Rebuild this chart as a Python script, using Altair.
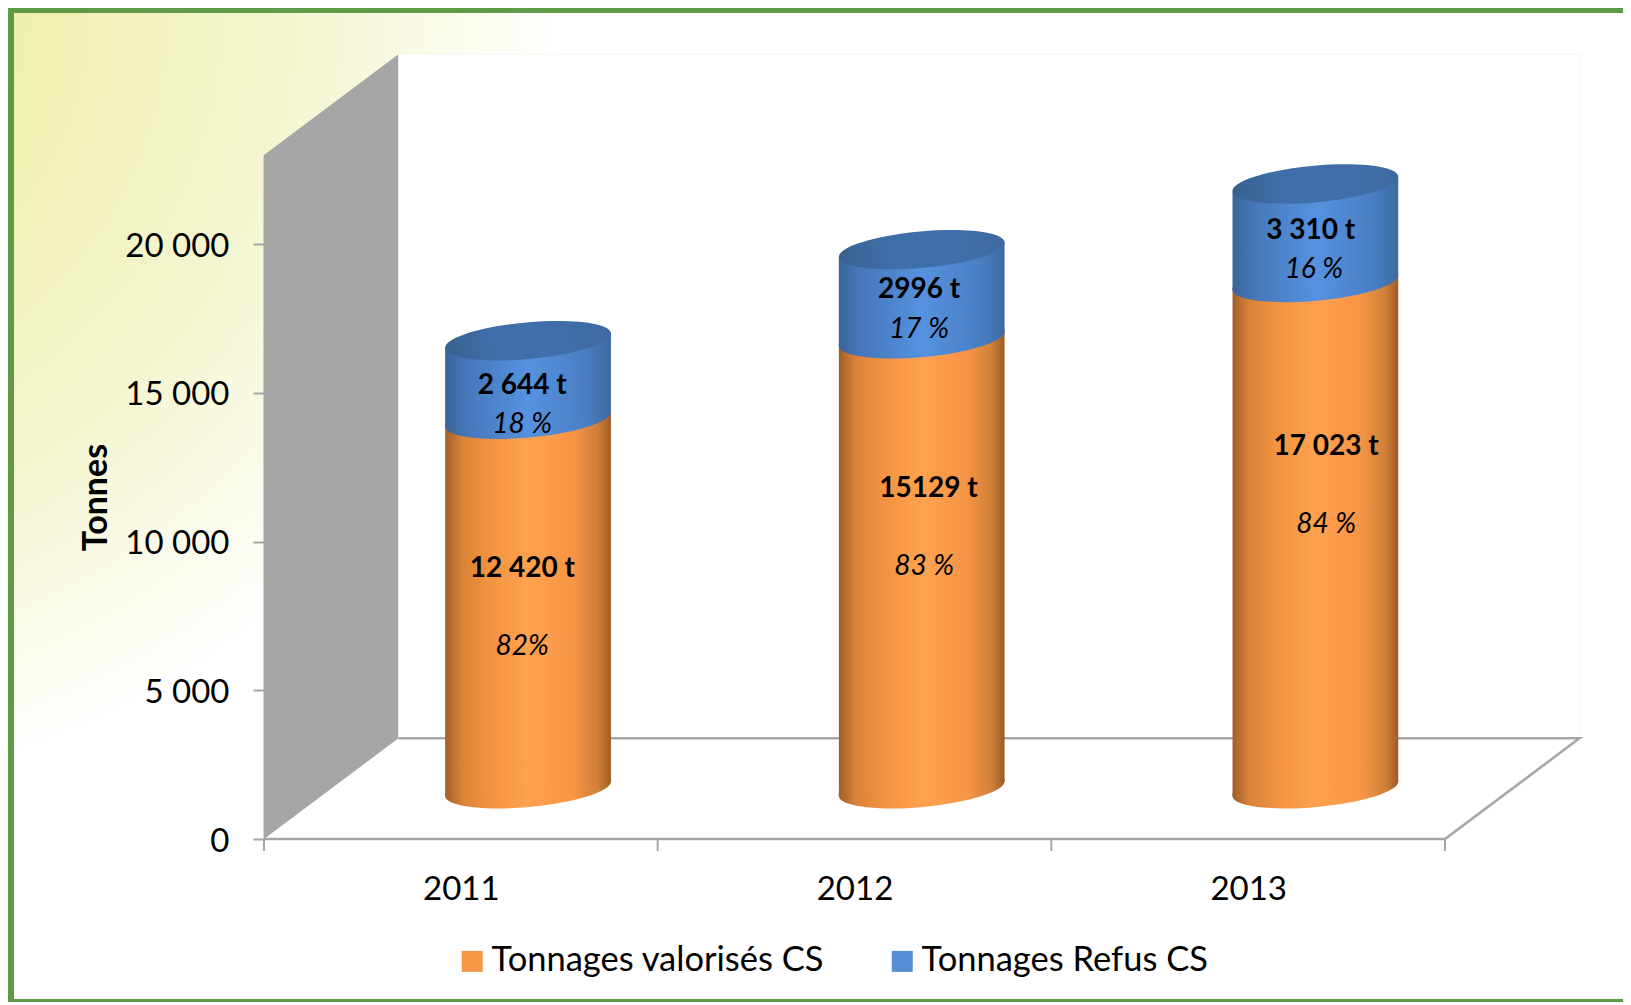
import altair as alt
import pandas as pd

years = [2011, 2012, 2013]
valorises = [12420, 15129, 17023]
refus = [2644, 2996, 3310]
bold_val = ["12 420 t", "15129 t", "17 023 t"]
pct_val = ["82%", "83 %", "84 %"]
bold_ref = ["2 644 t", "2996 t", "3 310 t"]
pct_ref = ["18 %", "17 %", "16 %"]
series_names = ["Tonnages valorisés CS", "Tonnages Refus CS"]
series_colors = ["#F79646", "#558ED5"]
y_ticks = [0, 5000, 10000, 15000, 20000]

# label anchors (x in category units, y in tonnes)
val_x = [0.656, 1.688, 2.698]
val_pct_x = [0.656, 1.677, 2.698]
ref_x = [0.656, 1.664, 2.659]
ref_pct_x = [0.656, 1.664, 2.667]
val_y = [9115, 11809, 13208]
val_pct_y = [6493, 9186, 10585]
ref_y = [15272, 18490, 20484]
ref_pct_y = [13941, 17160, 19153]

W, H = 1181, 684
PAD_L, PAD_T, PAD_R, PAD_B = 256, 147, 178, 163
Y_MAX = 23000
DX, DY = 0.3415, 3386           # depth of the 3D box
CYL = 0.421                     # cylinder width, category units
TILT = 252                      # tilt of the cylinder ends, tonnes
OFF = DY / 2
SIZE = 27700
FONT = "Lato"
GRAY = "#A6A6A6"
ANGLE = 354.8

HALF = "M-1,0 L-1,-0.03 L1,-0.03 L1,0 A1,0.22 0 0 0 -1,0"
HALF = "M-1,-0.03 L1,-0.03 L1,0 A1,0.22 0 0 1 -1,0 Z"
FULL = "M-1,0 A1,0.22 0 1 0 1,0 A1,0.22 0 1 0 -1,0 Z"


def grad(stops):
    return alt.LinearGradient(
        gradient="linear", x1=0, x2=1, y1=0, y2=0,
        stops=[alt.GradientStop(color=c, offset=o) for o, c in stops],
    )


ORANGE = grad([(0, "#A0602A"), (0.1, "#D98238"), (0.25, "#F0923F"), (0.5, "#FFA24F"),
               (0.78, "#F59445"), (0.92, "#CF8038"), (1, "#9C5C26")])
BLUE = grad([(0, "#3A6499"), (0.12, "#4577B8"), (0.5, "#5592E0"),
             (0.85, "#4A7EC2"), (1, "#3C6AA2")])
BLUE_TOP = grad([(0, "#38618F"), (0.3, "#3F6EAA"), (0.7, "#3F6EAA"), (1, "#3E6A9E")])

centers = [i + 0.5 + DX / 2 for i in range(3)]

rows = []
for yr, c, v, r in zip(years, centers, valorises, refus):
    for side, sign in ((-1, -1), (1, 1)):
        rows.append({"year": yr, "x": c + side * CYL / 2,
                     "base": OFF + sign * TILT,
                     "mid": OFF + v + sign * TILT,
                     "top": OFF + v + r + sign * TILT})
body = pd.DataFrame(rows)
ends = pd.DataFrame({"year": years, "x": centers,
                     "base": [OFF] * 3,
                     "mid": [OFF + v for v in valorises],
                     "top": [OFF + v + r for v, r in zip(valorises, refus)]})

X_AXIS = alt.Axis(values=[0.5, 1.5, 2.5], labelExpr="format(datum.value + 2010.5, 'd')",
                  title=None, grid=False, domain=False, ticks=False,
                  labelFont=FONT, labelFontSize=33, labelColor="#000000",
                  labelPadding=34, zindex=1)
Y_AXIS = alt.Axis(values=y_ticks, labelExpr="replace(format(datum.value, ','), ',', ' ')",
                  title="Tonnes", grid=False, domainColor=GRAY, domainWidth=2,
                  tickColor=GRAY, tickWidth=2, tickSize=11, labelPadding=24, labelOffset=2,
                  labelFont=FONT, labelFontSize=33, labelColor="#000000",
                  titleFont=FONT, titleFontSize=34, titleFontWeight="bold",
                  titleColor="#000000", titleX=-151, titleY=H / 2, zindex=1)
X_SCALE = alt.Scale(domain=[0, 3], nice=False, zero=False)
Y_SCALE = alt.Scale(domain=[0, Y_MAX], nice=False, zero=False)

X = alt.X("x:Q", scale=X_SCALE, axis=X_AXIS)


def Yf(f):
    return alt.Y(f, type="quantitative", scale=Y_SCALE, axis=Y_AXIS)


one = pd.DataFrame({"a": [0]})


def box(x, x2, y, y2, **kw):
    return alt.Chart(one).mark_rect(**kw).encode(
        x=alt.value(x), x2=alt.value(x2), y=alt.value(y), y2=alt.value(y2))


glow = box(-PAD_L, -PAD_L + 800, -PAD_T, -PAD_T + 800, fill=alt.RadialGradient(
    gradient="radial", x1=-0.292, y1=0, r1=0, x2=-0.292, y2=0, r2=0.981,
    stops=[alt.GradientStop(color="#EFEFAE", offset=0.3),
           alt.GradientStop(color="#F5F6D2", offset=0.67),
           alt.GradientStop(color="#FFFFFF", offset=1)]))
frame_top = box(-PAD_L, W + PAD_R, -PAD_T, -PAD_T + 5, fill="#5F9B47")
frame_left = box(-PAD_L, -PAD_L + 6, -PAD_T, H + PAD_B, fill="#5F9B47")
frame_bottom = box(-PAD_L, W + PAD_R, H + PAD_B - 3, H + PAD_B, fill="#5F9B47")

# hidden carrier of the legend (covered by the back wall)
legend_df = pd.DataFrame({"x": [1.5, 1.5], "y": [10000, 10000], "s": series_names})
carrier = alt.Chart(legend_df).mark_square(size=1, opacity=1).encode(
    x=X, y=Yf("y"),
    color=alt.Color("s:N", scale=alt.Scale(domain=series_names, range=series_colors),
                    legend=alt.Legend(title=None, orient="none", legendX=191, legendY=789,
                                      direction="horizontal", columns=2, symbolType="square",
                                      symbolSize=441, symbolOpacity=1, symbolStrokeWidth=0,
                                      labelFont=FONT, labelFontSize=34.5, labelColor="#000000",
                                      labelOffset=2, columnPadding=60, labelLimit=500)),
)

wall_df = pd.DataFrame({"x": [0, DX], "y": [Y_MAX, Y_MAX + DY], "y2": [0, DY]})
wall = alt.Chart(wall_df).mark_area(fill=GRAY, opacity=1, orient="vertical").encode(
    x=X, y=Yf("y"), y2="y2:Q")

back_df = pd.DataFrame({"x": [DX, 3 + DX], "y": [Y_MAX + DY] * 2, "y2": [DY] * 2})
back = alt.Chart(back_df).mark_area(fill="#FFFFFF", opacity=1, orient="vertical").encode(
    x=X, y=Yf("y"), y2="y2:Q")

faint_df = pd.DataFrame({"x": [DX, 3 + DX, 3 + DX], "y": [Y_MAX + DY, Y_MAX + DY, DY], "o": [0, 1, 2]})
faint = alt.Chart(faint_df).mark_line(color="#F6F6F6", strokeWidth=1).encode(
    x=X, y=Yf("y"), order="o:Q")

floor_df = pd.DataFrame({"x": [0, 3, 3 + DX, DX], "y": [0, 0, DY, DY], "o": [0, 1, 2, 3]})
floor = alt.Chart(floor_df).mark_line(color=GRAY, strokeWidth=2.5).encode(
    x=X, y=Yf("y"), order="o:Q")

ticks_df = pd.DataFrame({"x": [0, 1, 2, 3], "y": [0, 0, 0, 0]})
xticks = alt.Chart(ticks_df).mark_rule(color=GRAY, strokeWidth=2).encode(
    x=X, y=Yf("y"), y2=alt.value(H + 12))


def half(field, fill):
    return alt.Chart(ends).mark_point(shape=HALF, size=SIZE, filled=True, fill=fill, opacity=1,
                                      angle=ANGLE, strokeWidth=0).encode(x=X, y=Yf(field))


orange_base = half("base", ORANGE)
orange_body = alt.Chart(body).mark_area(fill=ORANGE, opacity=1, orient="vertical").encode(
    x=X, y=Yf("mid"), y2="base:Q", detail="year:N")
blue_body = alt.Chart(body).mark_area(fill=BLUE, opacity=1, orient="vertical").encode(
    x=X, y=Yf("top"), y2="mid:Q", detail="year:N")
blue_edge = half("mid", BLUE)
blue_top = alt.Chart(ends).mark_point(shape=FULL, size=SIZE, filled=True, fill=BLUE_TOP, opacity=1,
                                      angle=ANGLE, strokeWidth=0).encode(x=X, y=Yf("top"))


def labels(xs, ys, texts, **kw):
    df = pd.DataFrame({"x": xs, "y": ys, "t": texts})
    return alt.Chart(df).mark_text(font=FONT, fontSize=28, color="#000000", dy=1,
                                   align="center", baseline="middle", **kw).encode(
        x=X, y=Yf("y"), text="t:N")


chart = alt.layer(
    glow, carrier, wall, back, faint, floor, xticks,
    orange_base, orange_body, blue_body, blue_edge, blue_top,
    labels(val_x, val_y, bold_val, fontWeight="bold"),
    labels(val_pct_x, val_pct_y, pct_val, fontStyle="italic"),
    labels(ref_x, ref_y, bold_ref, fontWeight="bold"),
    labels(ref_pct_x, ref_pct_y, pct_ref, fontStyle="italic"),
    frame_top, frame_left, frame_bottom,
).properties(
    width=W, height=H, background="#FFFFFF",
    padding={"left": PAD_L, "top": PAD_T, "right": PAD_R, "bottom": PAD_B},
    autosize=alt.AutoSizeParams(type="none"),
).configure_view(stroke=None)

chart.save("out.html", embed_options={"renderer": "svg", "actions": False})
